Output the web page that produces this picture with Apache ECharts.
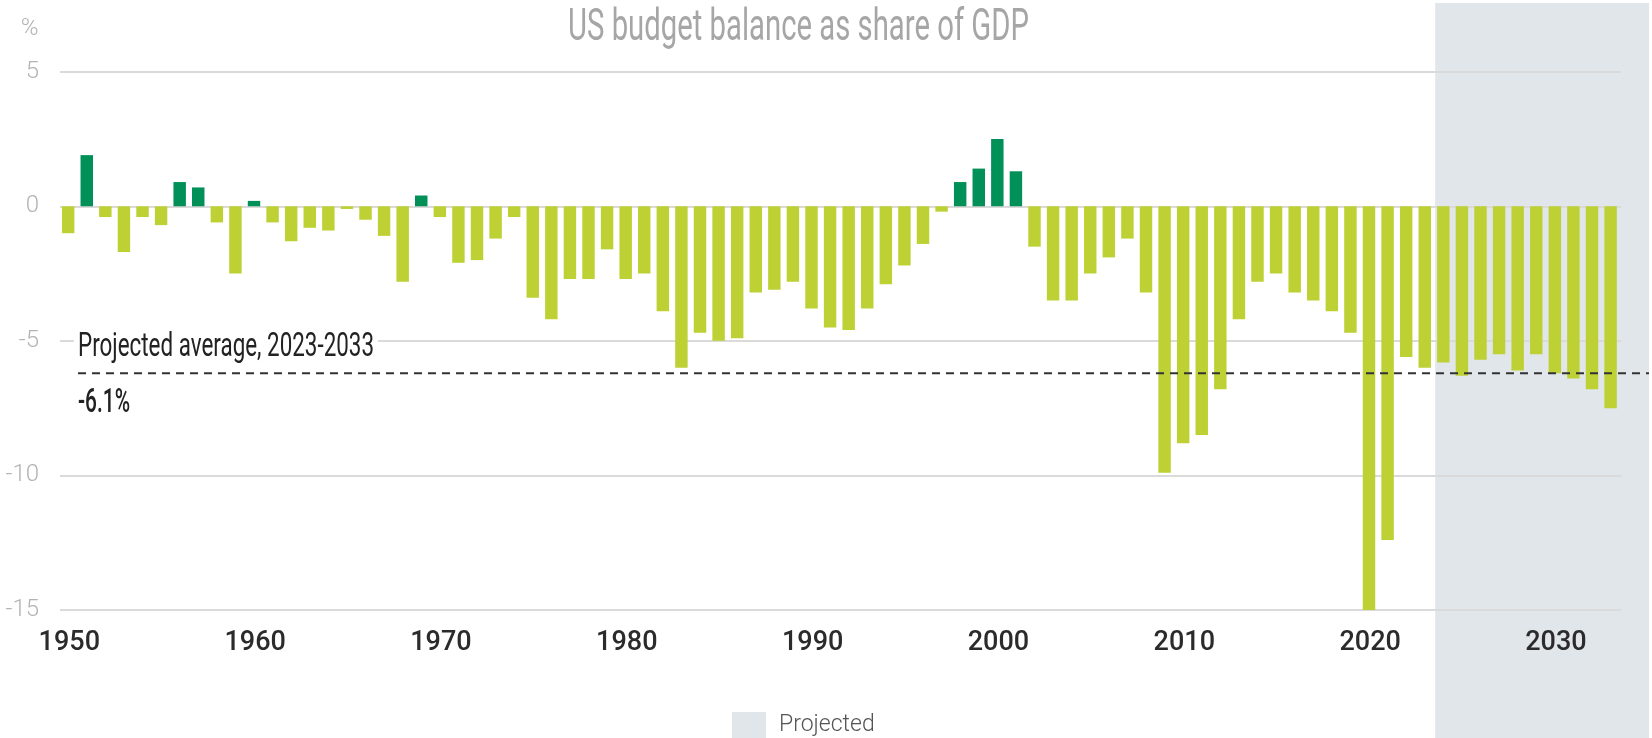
<!DOCTYPE html>
<html>
<head>
<meta charset="utf-8">
<script src="https://cdn.jsdelivr.net/npm/echarts@6/dist/echarts.min.js"></script>
<style>
html,body{margin:0;padding:0;background:#fff;}
#chart{width:1652px;height:738px;}
</style>
</head>
<body>
<div id="chart"></div>
<script>
const years = ['1950','1951','1952','1953','1954','1955','1956','1957','1958','1959',
  '1960','1961','1962','1963','1964','1965','1966','1967','1968','1969',
  '1970','1971','1972','1973','1974','1975','1976','1977','1978','1979',
  '1980','1981','1982','1983','1984','1985','1986','1987','1988','1989',
  '1990','1991','1992','1993','1994','1995','1996','1997','1998','1999',
  '2000','2001','2002','2003','2004','2005','2006','2007','2008','2009',
  '2010','2011','2012','2013','2014','2015','2016','2017','2018','2019',
  '2020','2021','2022','2023','2024','2025','2026','2027','2028','2029',
  '2030','2031','2032','2033'];
const balance = [-1.0, 1.9, -0.4, -1.7, -0.4, -0.7, 0.9, 0.7, -0.6, -2.5,
  0.2, -0.6, -1.3, -0.8, -0.9, -0.1, -0.5, -1.1, -2.8, 0.4,
  -0.4, -2.1, -2.0, -1.2, -0.4, -3.4, -4.2, -2.7, -2.7, -1.6,
  -2.7, -2.5, -3.9, -6.0, -4.7, -5.0, -4.9, -3.2, -3.1, -2.8,
  -3.8, -4.5, -4.6, -3.8, -2.9, -2.2, -1.4, -0.2, 0.9, 1.4,
  2.5, 1.3, -1.5, -3.5, -3.5, -2.5, -1.9, -1.2, -3.2, -9.9,
  -8.8, -8.5, -6.8, -4.2, -2.8, -2.5, -3.2, -3.5, -3.9, -4.7,
  -15.0, -12.4, -5.6, -6.0, -5.8, -6.3, -5.7, -5.5, -6.1, -5.5,
  -6.2, -6.4, -6.8, -7.5];
const projectionStart = '2024';
const projectedAverage = -6.2;
const projectedAverageLabel = '-6.1%';
const annotationText = 'Projected average, 2023-2033';
const titleText = 'US budget balance as share of GDP';
const yTicks = { min: -15, max: 5, interval: 5 };

const FONT = 'Roboto, "Noto Sans", sans-serif';
const POS = '#009058';
const NEG = '#bed134';
const SHADE = '#e1e6eb';

// horizontal squeeze so the wide installed fonts mimic the condensed original
const mctx = document.createElement('canvas').getContext('2d');
function squeeze(text, font, target) {
  mctx.font = font;
  return target / mctx.measureText(text).width;
}

const chart = echarts.init(document.getElementById('chart'));
chart.setOption({
  animation: false,
  backgroundColor: '#ffffff',
  legend: {
    data: ['Projected'], left: 732, top: 712, padding: 0, icon: 'rect',
    itemWidth: 34, itemHeight: 26, itemGap: 10,
    selectedMode: false,
    textStyle: { fontFamily: FONT, fontWeight: 300, fontSize: 23, color: '#555', padding: [0, 0, 0, 8] }
  },
  grid: { left: 60, right: 31, top: 71.7, bottom: 128, outerBoundsMode: 'none', containLabel: false },
  xAxis: {
    type: 'category', data: years,
    axisLine: { show: false }, axisTick: { show: false },
    axisLabel: { interval: 9, margin: 20, fontFamily: FONT, fontWeight: 500, fontSize: 27, color: '#2b2b2b' }
  },
  yAxis: {
    type: 'value', min: yTicks.min, max: yTicks.max, interval: yTicks.interval,
    name: '%', nameLocation: 'end', nameGap: 43,
    nameTextStyle: { fontFamily: FONT, fontWeight: 300, fontSize: 24, color: '#b3b3b3', align: 'center', verticalAlign: 'middle', padding: [0, 61, 0, 0] },
    axisLine: { show: false }, axisTick: { show: false },
    splitLine: { lineStyle: { color: '#dadada', width: 2 } },
    axisLabel: { margin: 21, fontFamily: FONT, fontWeight: 300, fontSize: 24, color: '#b3b3b3', padding: [0, 0, 8, 0] }
  },
  series: [
    {
      type: 'bar', name: 'Balance', data: balance, barWidth: '67%', z: 3,
      itemStyle: { color: p => p.value >= 0 ? POS : NEG }
    },
    { type: 'bar', name: 'Projected', data: [], itemStyle: { color: SHADE } }
  ]
});

const x0 = chart.convertToPixel({ xAxisIndex: 0 }, projectionStart);
const x1 = chart.convertToPixel({ xAxisIndex: 0 }, years[years.indexOf(projectionStart) + 1]);
const band = x1 - x0;
const avgY = chart.convertToPixel({ yAxisIndex: 0 }, projectedAverage);
const shadeLeft = x0 - band / 2;

const titleFont = 'normal 400 45px ' + FONT;
const noteFont = 'normal 400 33px ' + FONT;
const valFont = 'normal 500 33px ' + FONT;

chart.setOption({
  graphic: [
    { type: 'rect', z: -10, silent: true,
      shape: { x: shadeLeft, y: 3, width: 1649 - shadeLeft, height: 740 },
      style: { fill: SHADE } },
    { type: 'text', x: 798.5, y: 29, silent: true,
      scaleX: squeeze(titleText, titleFont, 461),
      style: { text: titleText, font: titleFont, fill: '#a6a6a6', align: 'center', verticalAlign: 'middle' } },
    { type: 'line', z: 10, silent: true,
      shape: { x1: 78, y1: avgY, x2: 1649, y2: avgY },
      style: { stroke: '#333', lineWidth: 2, lineDash: [8, 6] } },
    { type: 'rect', z: 9, silent: true,
      shape: { x: 74, y: avgY - 40, width: 304, height: 28 },
      style: { fill: '#fff' } },
    { type: 'text', z: 10, x: 78, y: avgY - 25, silent: true,
      scaleX: squeeze(annotationText, noteFont, 296),
      style: { text: annotationText, font: noteFont, fill: '#222', align: 'left', verticalAlign: 'middle' } },
    { type: 'text', z: 10, x: 78, y: avgY + 31, silent: true,
      scaleX: squeeze(projectedAverageLabel, valFont, 52),
      style: { text: projectedAverageLabel, font: valFont, fill: '#222', align: 'left', verticalAlign: 'middle' } }
  ]
});
</script>
</body>
</html>
